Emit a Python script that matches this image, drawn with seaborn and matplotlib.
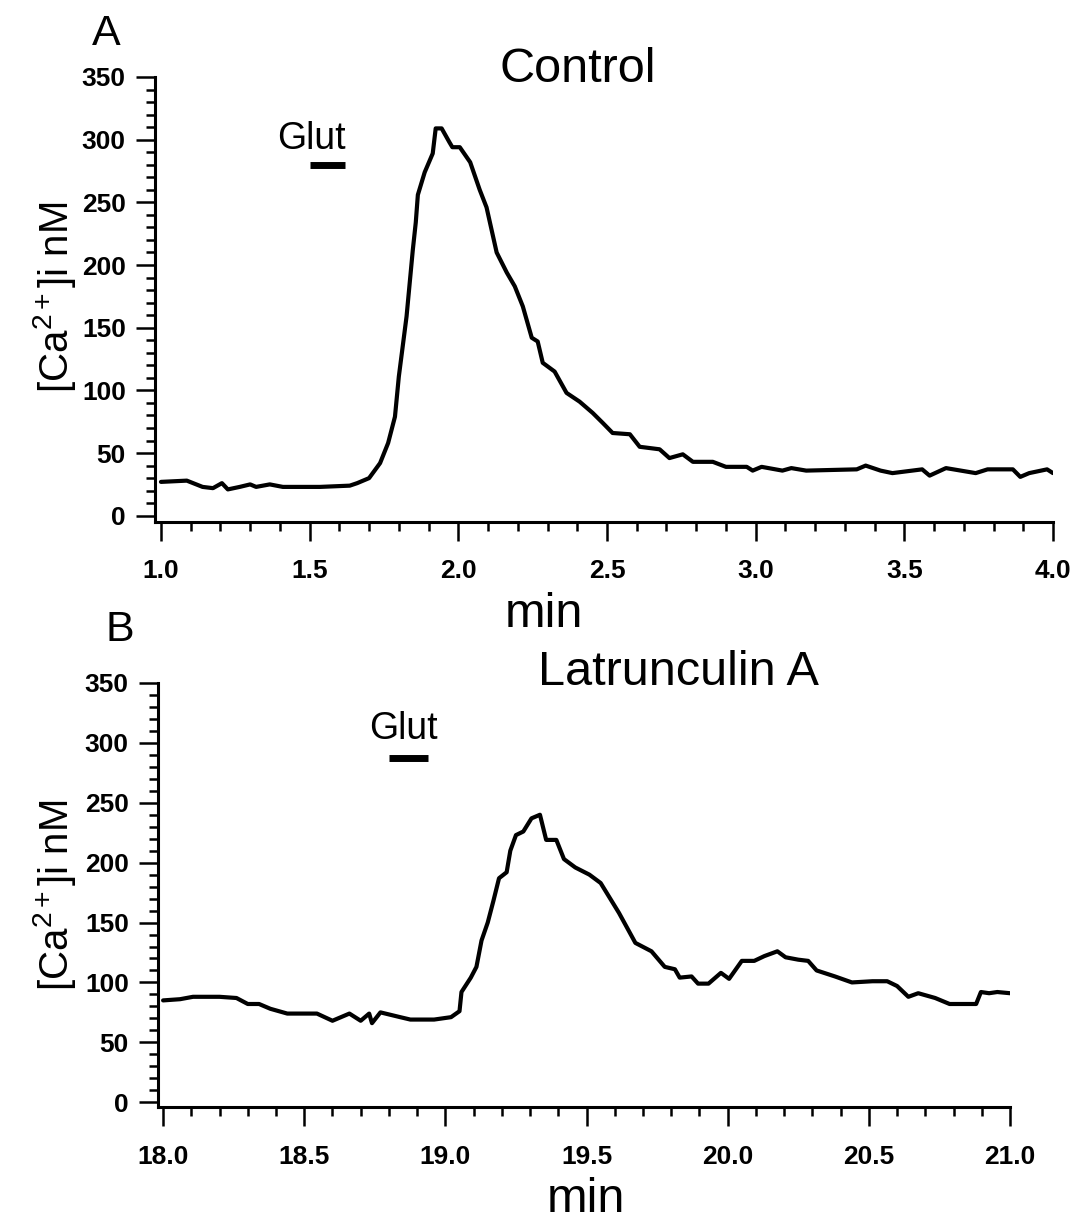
import numpy as np
import pandas as pd
import seaborn as sns
import matplotlib.pyplot as plt
from matplotlib.ticker import MultipleLocator, FormatStrFormatter

# Panel A: Control trace (min, nM)
t_control = [1.00, 1.087, 1.14, 1.175, 1.205, 1.225, 1.265, 1.30, 1.32, 1.366, 1.41, 1.535,
             1.635, 1.66, 1.70, 1.737, 1.764, 1.787, 1.80, 1.826, 1.847, 1.857, 1.864, 1.887,
             1.914, 1.924, 1.944, 1.97, 1.98, 2.005, 2.04, 2.072, 2.095, 2.129, 2.163, 2.19,
             2.217, 2.247, 2.267, 2.284, 2.324, 2.364, 2.408, 2.452, 2.486, 2.519, 2.577, 2.61,
             2.677, 2.71, 2.755, 2.789, 2.856, 2.90, 2.97, 2.99, 3.02, 3.09, 3.12, 3.17, 3.34,
             3.37, 3.42, 3.46, 3.56, 3.585, 3.64, 3.74, 3.78, 3.865, 3.89, 3.92, 3.98, 4.00]
ca_control = [27, 28, 23, 22, 26, 21, 23, 25, 23, 25, 23, 23,
              24, 26, 30, 42, 58, 79, 111, 159, 212, 234, 256, 274,
              289, 309, 309, 298, 294, 294, 282, 260, 246, 210, 194, 183,
              167, 142, 139, 122, 115, 98, 91, 82, 74, 66, 65, 55,
              53, 46, 49, 43, 43, 39, 39, 36, 39, 36, 38, 36, 37,
              40, 36, 34, 37, 32, 38, 34, 37, 37, 31, 34, 37, 34]

# Panel B: Latrunculin A trace
t_latA = [18.00, 18.06, 18.106, 18.20, 18.26, 18.30, 18.34, 18.38, 18.44, 18.545, 18.60,
          18.66, 18.70, 18.73, 18.74, 18.77, 18.84, 18.876, 18.96, 19.02, 19.05, 19.057,
          19.09, 19.11, 19.128, 19.15, 19.17, 19.19, 19.217, 19.23, 19.25, 19.276, 19.305,
          19.335, 19.357, 19.393, 19.42, 19.46, 19.51, 19.55, 19.615, 19.673, 19.73, 19.777,
          19.813, 19.83, 19.872, 19.895, 19.932, 19.976, 20.005, 20.05, 20.094, 20.13, 20.176,
          20.205, 20.25, 20.285, 20.315, 20.38, 20.44, 20.513, 20.565, 20.60, 20.64, 20.675,
          20.735, 20.786, 20.88, 20.897, 20.926, 20.955, 21.00]
ca_latA = [85, 86, 88, 88, 87, 82, 82, 78, 74, 74, 68,
           74, 68, 74, 66, 75, 71, 69, 69, 71, 76, 92,
           104, 113, 135, 150, 168, 187, 192, 210, 223, 226, 237,
           240, 219, 219, 203, 196, 190, 183, 158, 133, 126, 113,
           111, 104, 105, 99, 99, 108, 103, 118, 118, 122, 126,
           121, 119, 118, 110, 105, 100, 101, 101, 97, 88, 91,
           87, 82, 82, 92, 91, 92, 91]

# glutamate application bars (start, end, level)
glut_a = [1.50, 1.62, 280]
glut_b = [18.80, 18.94, 287]

sns.set_style("ticks")
plt.rcParams['font.family'] = ['Liberation Sans', 'DejaVu Sans']
plt.rcParams['mathtext.fontset'] = 'custom'
plt.rcParams['mathtext.rm'] = 'Liberation Sans'
plt.rcParams['mathtext.it'] = 'Liberation Sans'
plt.rcParams['text.color'] = 'black'
plt.rcParams['xtick.color'] = 'black'
plt.rcParams['ytick.color'] = 'black'
plt.rcParams['axes.edgecolor'] = 'black'

W, H = 1082, 1220
fig = plt.figure(figsize=(W / 100, H / 100), dpi=100)
ax1 = fig.add_axes([155 / W, 1 - 522 / H, (1053 - 155) / W, (522 - 77) / H])
ax2 = fig.add_axes([158 / W, 1 - 1107 / H, (1010 - 158) / W, (1107 - 683) / H])

df_a = pd.DataFrame({'min': t_control, 'Ca': ca_control})
df_b = pd.DataFrame({'min': t_latA, 'Ca': ca_latA})
sns.lineplot(data=df_a, x='min', y='Ca', ax=ax1, color='black', linewidth=3.0)
sns.lineplot(data=df_b, x='min', y='Ca', ax=ax2, color='black', linewidth=3.0)

ax1.set_xlim(0.98, 4.0)
ax1.set_ylim(-5, 350)
ax2.set_xlim(17.982, 21.0)
ax2.set_ylim(-4, 350)

tick_font = {'family': ['Liberation Sans Narrow', 'Liberation Sans'], 'weight': 'bold', 'size': 19}
for ax in (ax1, ax2):
    sns.despine(ax=ax)
    ax.spines['left'].set_linewidth(2.2)
    ax.spines['bottom'].set_linewidth(2.2)
    ax.xaxis.set_major_locator(MultipleLocator(0.5))
    ax.xaxis.set_minor_locator(MultipleLocator(0.1))
    ax.yaxis.set_major_locator(MultipleLocator(50))
    ax.yaxis.set_minor_locator(MultipleLocator(10))
    ax.xaxis.set_major_formatter(FormatStrFormatter('%.1f'))
    ax.tick_params(axis='both', which='major', length=14, width=1.8, direction='out', color='black')
    ax.tick_params(axis='both', which='minor', length=6.5, width=1.8, direction='out', color='black')
    ax.tick_params(axis='x', which='major', pad=13)
    ax.tick_params(axis='y', which='major', pad=7)
    for lab in ax.get_xticklabels() + ax.get_yticklabels():
        lab.set_fontproperties(tick_font)
        lab.set_color('black')
    ax.set_xlabel('')
    ax.set_ylabel('')
    ax.set_facecolor('white')

ax1.hlines(glut_a[2], glut_a[0], glut_a[1], color='black', linewidth=5)
ax2.hlines(glut_b[2], glut_b[0], glut_b[1], color='black', linewidth=5)

big = 35
fig.text(106 / W, 1 - 45 / H, 'A', fontsize=31, ha='center', va='baseline')
fig.text(120 / W, 1 - 641 / H, 'B', fontsize=31, ha='center', va='baseline')
fig.text(578 / W, 1 - 82 / H, 'Control', fontsize=big, ha='center', va='baseline')
fig.text(678 / W, 1 - 685 / H, 'Latrunculin A', fontsize=big, ha='center', va='baseline')
fig.text(311 / W, 1 - 149 / H, 'Glut', fontsize=27, ha='center', va='baseline')
fig.text(403 / W, 1 - 739 / H, 'Glut', fontsize=27, ha='center', va='baseline')
fig.text(544 / W, 1 - 627 / H, 'min', fontsize=big, ha='center', va='baseline')
fig.text(586 / W, 1 - 1212 / H, 'min', fontsize=big, ha='center', va='baseline')
ylab = r'[Ca$^{2+}$]i nM'
fig.text(55 / W, 1 - 297 / H, ylab, fontsize=29, rotation=90, ha='center', va='center')
fig.text(55 / W, 1 - 895 / H, ylab, fontsize=29, rotation=90, ha='center', va='center')

fig.savefig('out.png', dpi=100, facecolor='white')
